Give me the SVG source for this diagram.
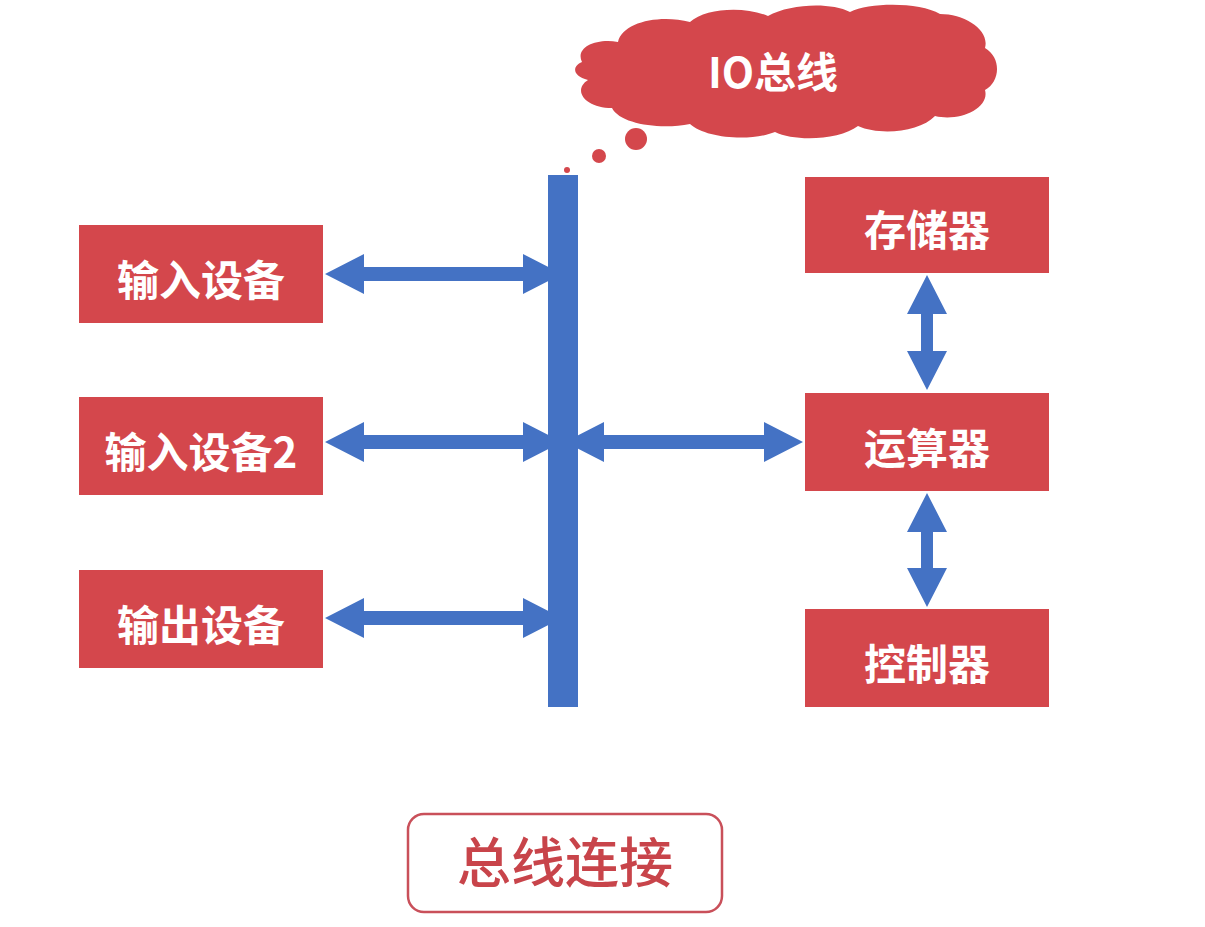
<svg xmlns="http://www.w3.org/2000/svg" width="1205" height="927" viewBox="0 0 1205 927">
  <style>
    .box { fill: #d4474c; }
    .lbl { font-family: "Noto Sans CJK SC", "Noto Sans", sans-serif; font-weight: 700; font-size: 42px; fill: #ffffff; text-anchor: middle; }
    .arrow { fill: #4472c4; }
    .bus { fill: #4472c4; }
    .cloud { fill: #d4474c; }
    .caption { font-family: "Noto Sans CJK SC", "Noto Sans", sans-serif; font-weight: 500; font-size: 54px; fill: #c8444a; text-anchor: middle; }
  </style>
  <rect width="1205" height="927" fill="#ffffff"/>

  <!-- I/O bus callout -->
  <g id="io-bus-cloud">
    <path class="cloud" d="M 582,62
      C 575,48 595,38 618,42
      C 622,22 660,14 690,22
      C 705,8 745,6 768,16
      C 790,4 830,2 850,12
      C 870,2 920,2 940,14
      C 965,14 990,30 985,48
      C 1002,58 1000,82 985,90
      C 990,108 960,122 935,116
      C 920,132 880,136 858,126
      C 840,140 795,142 775,132
      C 750,142 705,138 690,124
      C 660,130 620,124 612,108
      C 585,108 572,90 588,80
      C 572,76 572,66 582,62 Z"/>
    <circle class="cloud" cx="636" cy="139" r="11"/>
    <circle class="cloud" cx="599" cy="156" r="7"/>
    <circle class="cloud" cx="567" cy="170" r="3"/>
    <text class="lbl" x="773" y="88" font-size="48">IO总线</text>
  </g>

  <!-- connectors -->
  <g id="connectors">
    <!-- device links to the bus -->
    <polygon class="arrow" points="325,274 364,254 364,267 523,267 523,254 562,274 523,294 523,281 364,281 364,294"/>
    <polygon class="arrow" points="325,442 364,422 364,435 523,435 523,422 562,442 523,462 523,449 364,449 364,462"/>
    <polygon class="arrow" points="325,618 364,598 364,611 523,611 523,598 562,618 523,638 523,625 364,625 364,638"/>
    <!-- bus to ALU -->
    <polygon class="arrow" points="565,442 604,422 604,435 764,435 764,422 803,442 764,462 764,449 604,449 604,462"/>
    <!-- memory / ALU / controller -->
    <polygon class="arrow" points="927,275 947,314 933,314 933,351 947,351 927,390 907,351 921,351 921,314 907,314"/>
    <polygon class="arrow" points="927,493 947,532 933,532 933,568 947,568 927,607 907,568 921,568 921,532 907,532"/>
    <!-- system bus -->
    <rect class="bus" x="548" y="175" width="30" height="532"/>
  </g>

  <g id="input-device">
    <rect class="box" x="79" y="225" width="244" height="98"/>
    <text class="lbl" x="201" y="296">输入设备</text>
  </g>
  <g id="input-device-2">
    <rect class="box" x="79" y="397" width="244" height="98"/>
    <text class="lbl" x="201" y="468">输入设备2</text>
  </g>
  <g id="output-device">
    <rect class="box" x="79" y="570" width="244" height="98"/>
    <text class="lbl" x="201" y="641">输出设备</text>
  </g>
  <g id="memory">
    <rect class="box" x="805" y="177" width="244" height="96"/>
    <text class="lbl" x="927" y="246">存储器</text>
  </g>
  <g id="alu">
    <rect class="box" x="805" y="393" width="244" height="98"/>
    <text class="lbl" x="927" y="464">运算器</text>
  </g>
  <g id="controller">
    <rect class="box" x="805" y="609" width="244" height="98"/>
    <text class="lbl" x="927" y="680">控制器</text>
  </g>

  <g id="caption">
    <rect x="408" y="814" width="314" height="98" rx="16" ry="16" fill="#ffffff" stroke="#c9505a" stroke-width="2.5"/>
    <text class="caption" x="565" y="883">总线连接</text>
  </g>
</svg>
